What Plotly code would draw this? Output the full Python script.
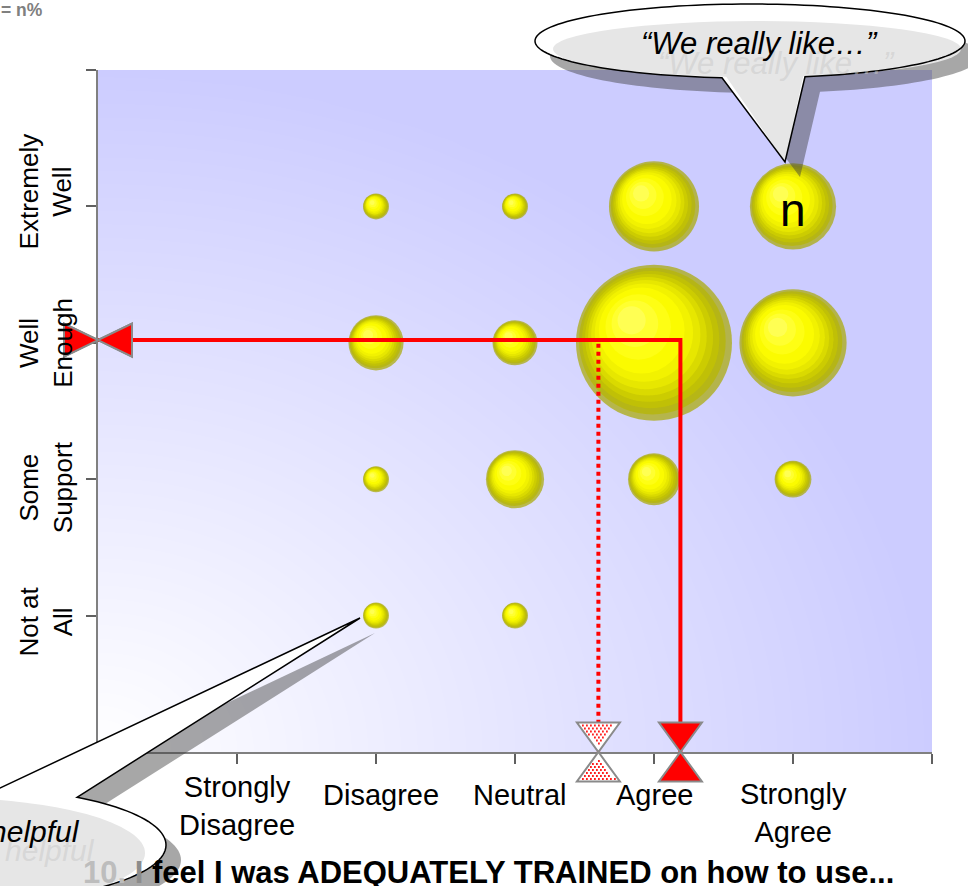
import numpy as np
import plotly.graph_objects as go

# ---------------------------------------------------------------------------
# Survey data
# ---------------------------------------------------------------------------
agreement = ["Strongly Disagree", "Disagree", "Neutral", "Agree", "Strongly Agree"]
support = ["Not at All", "Some Support", "Well Enough", "Extremely Well"]
agreement_labels = ["Strongly<br>Disagree", "Disagree", "Neutral", "Agree", "Strongly<br>Agree"]
support_labels = ["Not at<br>All", "Some<br>Support", "Well<br>Enough", "Extremely<br>Well"]

# share of respondents (%) in each agreement / support cell
cell_agreement = ["Disagree", "Neutral", "Agree", "Strongly Agree",
                  "Disagree", "Neutral", "Agree", "Strongly Agree",
                  "Disagree", "Neutral", "Agree", "Strongly Agree",
                  "Disagree", "Neutral"]
cell_support = ["Extremely Well"] * 4 + ["Well Enough"] * 4 + ["Some Support"] * 4 + ["Not at All"] * 2
cell_share = [1, 1, 12, 11,
              4.5, 3, 36, 17,
              1, 5, 4, 2,
              1, 1]

# averages on both scales: this group (solid) and comparison group (dotted)
current_mean = {"agreement": 4.19, "support": 3.02}
benchmark_mean = {"agreement": 3.60, "support": 3.02}

highlight_label = "n"
size_note = "Size = n%"
quote_positive = "\u201cWe really like\u2026\u201d"
quote_negative = "Not very helpful"
question_lead = "10. I"
question_rest = " feel I was ADEQUATELY TRAINED on how to use..."

# ---------------------------------------------------------------------------
# Page geometry
# ---------------------------------------------------------------------------
W, H = 968, 886
ML, MR, MT, MB = 98, 36, 70, 134
PW, PH = W - ML - MR, H - MT - MB
XR = (0, 6)
YR = (0, 5)
PX_X = PW / (XR[1] - XR[0])
PX_Y = PH / (YR[1] - YR[0])
FONT = "Arial, 'Liberation Sans', sans-serif"


def paper_x(px):
    return (px - ML) / PW


def paper_y(py):
    return (H - MB - py) / PH


def data_to_px(xv, yv):
    return ML + (xv - XR[0]) * PX_X, MT + PH - (yv - YR[0]) * PX_Y


def path_from_px(points, close=True):
    s = "M " + " L ".join(f"{paper_x(x):.5f},{paper_y(y):.5f}" for x, y in points)
    return s + (" Z" if close else "")


fig = go.Figure()

# ---------------------------------------------------------------------------
# Plot-area background: soft lavender wash fading to white at lower left
# ---------------------------------------------------------------------------
gx = np.linspace(-0.05, 6.05, 62)
gy = np.linspace(-0.05, 5.05, 52)
GX, GY = np.meshgrid(gx, gy)
wash = np.clip(np.sqrt((GX / 6) ** 2 + (GY / 5) ** 2), 0, 1)
fig.add_trace(go.Heatmap(x=gx, y=gy, z=wash, zmin=0, zmax=1, zsmooth="best",
                         colorscale=[[0, "#ffffff"], [1, "#ccccff"]],
                         showscale=False, hoverinfo="skip"))

# ---------------------------------------------------------------------------
# Bubbles, shaded as spheres with stacked offset discs
# ---------------------------------------------------------------------------
bx = np.array([agreement.index(a) + 1 for a in cell_agreement], float)
by = np.array([support.index(s) + 1 for s in cell_support], float)
share = np.array(cell_share, float)
SIZEREF = 2 / 676.0  # 1 % -> 26 px wide bubble
radius_px = 0.5 * np.sqrt(2 * share / SIZEREF)

shading = [(0.00, "#a8a800"), (0.06, "#b6b600"), (0.12, "#c4c400"), (0.18, "#d2d200"),
           (0.24, "#e0e000"), (0.30, "#ecec00"), (0.37, "#f7f700"), (0.45, "#ffff00"),
           (0.58, "#ffff1c"), (0.70, "#ffff3c"), (0.82, "#ffff62")]
for t, col in shading:
    shift = 0.35 * t * radius_px
    fig.add_trace(go.Scatter(
        x=bx - shift / PX_X, y=by + shift / PX_Y, mode="markers",
        marker=dict(size=share * (1 - t) ** 2, sizemode="area", sizeref=SIZEREF,
                    color=col, line=dict(width=0)),
        hoverinfo="skip"))

# ---------------------------------------------------------------------------
# Mean guide lines
# ---------------------------------------------------------------------------
fig.add_trace(go.Scatter(
    x=[XR[0], benchmark_mean["agreement"], benchmark_mean["agreement"]],
    y=[benchmark_mean["support"], benchmark_mean["support"], YR[0]],
    mode="lines", line=dict(color="#ff0000", width=4, dash="dot"), hoverinfo="skip"))
fig.add_trace(go.Scatter(
    x=[XR[0], current_mean["agreement"], current_mean["agreement"]],
    y=[current_mean["support"], current_mean["support"], YR[0]],
    mode="lines", line=dict(color="#ff0000", width=4), hoverinfo="skip"))

shapes = []

# ---------------------------------------------------------------------------
# Mean markers: paired triangles meeting on each axis
# ---------------------------------------------------------------------------
def mean_triangles(mean):
    tx, _ = data_to_px(mean["agreement"], 0)
    _, ty = data_to_px(0, mean["support"])
    ax0, ay0 = data_to_px(XR[0], YR[0])
    hb, hl = 21.5, 29.5   # on the x axis
    vb, vl = 16.5, 34.0   # on the y axis
    return [
        [(tx - hb, ay0 - hl), (tx + hb, ay0 - hl), (tx, ay0)],
        [(tx - hb, ay0 + hl), (tx + hb, ay0 + hl), (tx, ay0)],
        [(ax0 - vl, ty - vb), (ax0 - vl, ty + vb), (ax0, ty)],
        [(ax0 + vl, ty - vb), (ax0 + vl, ty + vb), (ax0, ty)],
    ]


def inside(p, tri, shrink=0.78):
    cx = sum(v[0] for v in tri) / 3
    cy = sum(v[1] for v in tri) / 3
    t2 = [(cx + (v[0] - cx) * shrink, cy + (v[1] - cy) * shrink) for v in tri]
    (x1, y1), (x2, y2), (x3, y3) = t2
    d = (y2 - y3) * (x1 - x3) + (x3 - x2) * (y1 - y3)
    a = ((y2 - y3) * (p[0] - x3) + (x3 - x2) * (p[1] - y3)) / d
    b = ((y3 - y1) * (p[0] - x3) + (x1 - x3) * (p[1] - y3)) / d
    return a >= 0 and b >= 0 and (1 - a - b) >= 0


for tri in mean_triangles(benchmark_mean):
    shapes.append(dict(type="path", xref="paper", yref="paper", path=path_from_px(tri),
                       fillcolor="#ffffff", line=dict(width=0)))
    xs = [v[0] for v in tri]
    ys = [v[1] for v in tri]
    dots = []
    row = 0
    yy = min(ys)
    while yy <= max(ys):
        xx = min(xs) + (2 if row % 2 else 0)
        while xx <= max(xs):
            if inside((xx, yy), tri):
                dots.append(path_from_px([(xx - 0.9, yy - 0.9), (xx + 0.9, yy - 0.9),
                                          (xx + 0.9, yy + 0.9), (xx - 0.9, yy + 0.9)]))
            xx += 4
        yy += 3
        row += 1
    if dots:
        shapes.append(dict(type="path", xref="paper", yref="paper", path=" ".join(dots),
                           fillcolor="#ff2020", line=dict(width=0)))
    shapes.append(dict(type="path", xref="paper", yref="paper", path=path_from_px(tri),
                       fillcolor="rgba(0,0,0,0)", line=dict(color="#8a8a8a", width=2)))

for tri in mean_triangles(current_mean):
    shapes.append(dict(type="path", xref="paper", yref="paper", path=path_from_px(tri),
                       fillcolor="#ff0000", line=dict(color="#8a8a8a", width=2)))

# ---------------------------------------------------------------------------
# Speech-bubble callouts
# ---------------------------------------------------------------------------
def callout_points(cx, cy, rx, ry, t0, t1, tip, dx=0, dy=0):
    ts = np.linspace(t0, t1, 140)
    pts = [(cx + rx * np.cos(t) + dx, cy + ry * np.sin(t) + dy) for t in ts]
    pts.append((tip[0] + dx, tip[1] + dy))
    return pts


def ellipse_shape(cx, cy, rx, ry, color):
    return dict(type="circle", xref="paper", yref="paper",
                x0=paper_x(cx - rx), x1=paper_x(cx + rx),
                y0=paper_y(cy + ry), y1=paper_y(cy - ry),
                fillcolor=color, line=dict(width=0))


SHADOW = "rgba(60,60,60,0.45)"
FILL = "#e6e6e6"

# upper right callout
tcx, tcy, trx, try_ = 750, 41, 215, 37
t_a = np.arccos((722 - tcx) / trx)
t_b = np.arccos((805 - tcx) / trx) + 2 * np.pi
top_tip = (785, 162)
shapes.append(dict(type="path", xref="paper", yref="paper",
                   path=path_from_px(callout_points(tcx, tcy, trx, try_, t_a, t_b, top_tip, 15, 15)),
                   fillcolor=SHADOW, line=dict(width=0)))
shapes.append(dict(type="path", xref="paper", yref="paper",
                   path=path_from_px(callout_points(tcx, tcy, trx, try_, t_a, t_b, top_tip)),
                   fillcolor="#ffffff", line=dict(width=0)))
shapes.append(ellipse_shape(757, 49, 204, 28, FILL))
shapes.append(dict(type="path", xref="paper", yref="paper",
                   path=path_from_px([(723, 72), (804, 72), top_tip]),
                   fillcolor=FILL, line=dict(width=0)))
shapes.append(dict(type="path", xref="paper", yref="paper",
                   path=path_from_px(callout_points(tcx, tcy, trx, try_, t_a, t_b, top_tip)),
                   fillcolor="rgba(0,0,0,0)", line=dict(color="#000000", width=1.5)))

# lower left callout
bcx, bcy, brx, bry = -40, 845, 206, 58
b_a = -np.arccos((77 - bcx) / brx)
b_b = -np.arccos((0 - bcx) / brx) + 2 * np.pi
low_tip = (360, 618)
shapes.append(dict(type="path", xref="paper", yref="paper",
                   path=path_from_px(callout_points(bcx, bcy, brx, bry, b_a, b_b, low_tip, 15, 15)),
                   fillcolor=SHADOW, line=dict(width=0)))
shapes.append(dict(type="path", xref="paper", yref="paper",
                   path=path_from_px(callout_points(bcx, bcy, brx, bry, b_a, b_b, low_tip)),
                   fillcolor="#ffffff", line=dict(width=0)))
shapes.append(ellipse_shape(-55, 853, 200, 55, FILL))
shapes.append(dict(type="path", xref="paper", yref="paper",
                   path=path_from_px(callout_points(bcx, bcy, brx, bry, b_a, b_b, low_tip)),
                   fillcolor="rgba(0,0,0,0)", line=dict(color="#000000", width=1.5)))

# ---------------------------------------------------------------------------
# Text
# ---------------------------------------------------------------------------
ann = []
for i, lab in enumerate(agreement_labels):
    yshift = {0: -54, 4: -61}.get(i, -43)
    xshift = 5 if i in (1, 2) else 0
    ann.append(dict(x=i + 1, y=0, xref="x", yref="paper", text=lab, showarrow=False,
                    xanchor="center", yanchor="middle", yshift=yshift, xshift=xshift,
                    font=dict(size=29, color="#000000"), align="center"))

y_shifts = [-6, -8, 0, 15]
for i, lab in enumerate(support_labels):
    ann.append(dict(x=paper_x(46), y=i + 1, xref="paper", yref="y", text=lab, showarrow=False,
                    textangle=-90, xanchor="center", yanchor="middle", yshift=y_shifts[i],
                    font=dict(size=26, color="#000000"), align="center"))

hx = agreement.index("Strongly Agree") + 1
hy = support.index("Extremely Well") + 1
ann.append(dict(x=hx, y=hy, xref="x", yref="y", text=highlight_label, showarrow=False,
                xanchor="center", yanchor="middle", yshift=-4,
                font=dict(size=46, color="#000000")))

ann.append(dict(x=paper_x(45), y=paper_y(10), xref="paper", yref="paper", text=f"<b>{size_note}</b>",
                showarrow=False, xanchor="right", yanchor="middle",
                font=dict(size=17.5, color="#808080")))

# callout text with its faint echo
ann.append(dict(x=paper_x(776), y=paper_y(63), xref="paper", yref="paper",
                text=f"<i>{quote_positive}</i>", showarrow=False,
                xanchor="center", yanchor="middle",
                font=dict(size=31, color="rgba(200,200,200,0.5)")))
ann.append(dict(x=paper_x(759), y=paper_y(43), xref="paper", yref="paper",
                text=f"<i>{quote_positive}</i>", showarrow=False,
                xanchor="center", yanchor="middle",
                font=dict(size=31, color="#000000")))
ann.append(dict(x=paper_x(97), y=paper_y(850), xref="paper", yref="paper",
                text=f"<i>{quote_negative}</i>", showarrow=False,
                xanchor="right", yanchor="middle",
                font=dict(size=30, color="rgba(200,200,200,0.5)")))
ann.append(dict(x=paper_x(82), y=paper_y(832), xref="paper", yref="paper",
                text=f"<i>{quote_negative}</i>", showarrow=False,
                xanchor="right", yanchor="middle",
                font=dict(size=30, color="#000000")))

ann.append(dict(x=paper_x(488), y=paper_y(872), xref="paper", yref="paper",
                text=(f"<b><span style='color:#bdbdbd'>{question_lead[:3]}</span>"
                      f"<span style='color:#8c8c8c'>{question_lead[3:]}</span>{question_rest}</b>"),
                showarrow=False, xanchor="center", yanchor="middle",
                font=dict(size=31, color="#000000")))

axis_common = dict(showgrid=False, zeroline=False, showline=True, linecolor="#808080", linewidth=2,
                   ticks="outside", ticklen=10, tickwidth=1.5, tickcolor="#606060",
                   showticklabels=False, fixedrange=True, tickmode="array")

fig.update_layout(
    width=W, height=H, autosize=False,
    margin=dict(l=ML, r=MR, t=MT, b=MB, pad=0),
    paper_bgcolor="#ffffff", plot_bgcolor="#ffffff",
    font=dict(family=FONT, color="#000000"),
    showlegend=False,
    xaxis=dict(range=list(XR), tickvals=list(range(XR[0], XR[1] + 1)), **axis_common),
    yaxis=dict(range=list(YR), tickvals=list(range(YR[0], YR[1] + 1)), **axis_common),
    shapes=shapes,
    annotations=ann,
)

fig.write_html("out.html")
